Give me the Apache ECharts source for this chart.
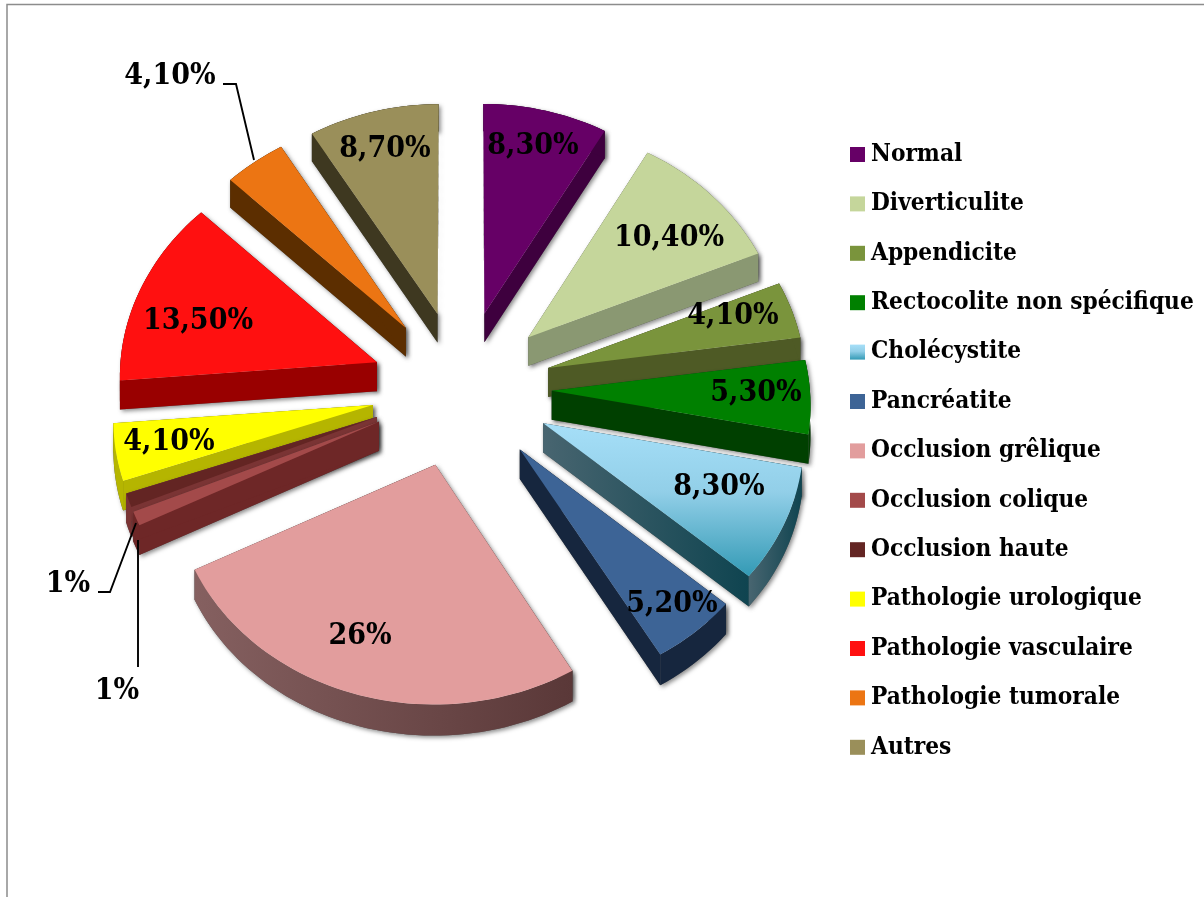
<!DOCTYPE html>
<html>
<head>
<meta charset="utf-8">
<title>Pie</title>
<style>
  html, body { margin: 0; padding: 0; background: #fff; }
  #chart { width: 1204px; height: 897px; }
</style>
<script src="https://cdn.jsdelivr.net/npm/echarts@6/dist/echarts.min.js"></script>
</head>
<body>
<div id="chart"></div>
<script>
var categories = ['Normal', 'Diverticulite', 'Appendicite', 'Rectocolite non spécifique', 'Cholécystite', 'Pancréatite',
  'Occlusion grêlique', 'Occlusion colique', 'Occlusion haute', 'Pathologie urologique', 'Pathologie vasculaire',
  'Pathologie tumorale', 'Autres'];
var values = [8.3, 10.4, 4.1, 5.3, 8.3, 5.2, 26, 1, 1, 4.1, 13.5, 4.1, 8.7];
var labels = ['8,30%', '10,40%', '4,10%', '5,30%', '8,30%', '5,20%', '26%', '1%', '1%', '4,10%', '13,50%', '4,10%', '8,70%'];

var topColors = ['#660066', '#c5d69b', '#7a943c', '#008000',
  { type: 'linear', x: 0, y: 0, x2: 0, y2: 1, colorStops: [{ offset: 0, color: '#a6dff8' }, { offset: 0.45, color: '#92cfe8' }, { offset: 1, color: '#339ab5' }] },
  '#3d6496', '#e29d9d', '#a34a4a', '#632523', '#ffff00', '#ff1010', '#ec7513', '#9a8f5a'];
var wallColors = ['#3e003e', '#8a9872', '#4e5a25', '#004000',
  { type: 'linear', x: 0, y: 0, x2: 1, y2: 0, colorStops: [{ offset: 0, color: '#486570' }, { offset: 1, color: '#0f4450' }] },
  '#16263e',
  { type: 'linear', x: 0, y: 0, x2: 1, y2: 0, colorStops: [{ offset: 0, color: '#856060' }, { offset: 1, color: '#5a3838' }] },
  '#6e2727', '#7a3434', '#b5b500', '#990000', '#5c2e00', '#3e3820'];

// label anchors, pixels
var labelAt = [[533, 146], [669, 238], [733, 316], [756, 393], [719, 487], [672, 604], [360, 636],
  [117, 691], [68, 584], [169, 442], [198, 321], [170, 76], [385, 149]];
var leaders = [
  [[223, 84], [236, 84], [254, 160]],
  [[98, 592], [110, 592], [136, 523]],
  [[138, 667], [138, 540]]
];

var cx = 461.5, cy = 388.5, rx = 258, ry = 224, explode = 0.35, perspX = 0.05, perspY = 0.04, depth = 29;
var fontName = '"DejaVu Serif Condensed", "DejaVu Serif", serif';
var total = values.reduce(function (a, b) { return a + b; }, 0);

function project(u, v) {
  var s = 1 / (1 - perspX * v);
  return [cx + rx * u * s, cy + ry * v / (1 - perspY * v), s];
}

function sliceShape(index) {
  var before = 0;
  for (var i = 0; i < index; i++) before += values[i];
  var a0 = before / total * Math.PI * 2;
  var a1 = (before + values[index]) / total * Math.PI * 2;
  var m = (a0 + a1) / 2;
  var ox = explode * Math.sin(m), oy = -explode * Math.cos(m);
  var tip = project(ox, oy);
  var rim = [];
  var steps = Math.max(2, Math.ceil((a1 - a0) / 0.03));
  for (var k = 0; k <= steps; k++) {
    var a = a0 + (a1 - a0) * k / steps;
    rim.push(project(ox + Math.sin(a), oy - Math.cos(a)));
  }
  return { tip: tip, rim: rim };
}

function drop(p) { return [p[0], p[1] + depth * p[2]]; }
function flat(p) { return [p[0], p[1]]; }

function renderSlice(index) {
  return function () {
    var sh = sliceShape(index);
    var rim = sh.rim, tip = sh.tip;
    var first = rim[0], last = rim[rim.length - 1];
    var faces = [
      [flat(tip), flat(first), drop(first), drop(tip)],
      [flat(tip), flat(last), drop(last), drop(tip)],
      rim.map(flat).concat(rim.slice().reverse().map(drop))
    ];
    var children = [];
    // shadows first, then the clean walls over them
    faces.forEach(function (pts) {
      children.push({ type: 'polygon', shape: { points: pts },
        style: { fill: '#555', shadowColor: 'rgba(0,0,0,0.45)', shadowBlur: 4, shadowOffsetX: 2, shadowOffsetY: 2 } });
    });
    faces.forEach(function (pts) {
      children.push({ type: 'polygon', shape: { points: pts }, style: { fill: wallColors[index] } });
    });
    children.push({ type: 'polygon', shape: { points: [flat(tip)].concat(rim.map(flat)) }, style: { fill: topColors[index] } });
    return { type: 'group', children: children };
  };
}

function midCos(index) {
  var before = 0;
  for (var i = 0; i < index; i++) before += values[i];
  return Math.cos((before + values[index] / 2) / total * Math.PI * 2);
}

var series = categories.map(function (name, i) {
  return {
    name: name,
    type: 'custom',
    coordinateSystem: 'none',
    silent: true,
    z: 10 - midCos(i) * 5,
    itemStyle: { color: topColors[i] },
    renderItem: renderSlice(i),
    data: [values[i]]
  };
});

series.push({
  name: 'labels',
  type: 'custom',
  coordinateSystem: 'none',
  silent: true,
  z: 30,
  renderItem: function (params) {
    var i = params.dataIndex;
    return {
      type: 'text',
      style: {
        x: labelAt[i][0], y: labelAt[i][1], text: labels[i],
        font: 'bold 30px ' + fontName, fill: '#000', align: 'center', verticalAlign: 'middle'
      }
    };
  },
  data: labels
});

var chart = echarts.init(document.getElementById('chart'));
chart.setOption({
  animation: false,
  backgroundColor: '#fff',
  legend: {
    data: categories,
    orient: 'vertical',
    icon: 'rect',
    left: 845,
    top: 133,
    itemWidth: 15,
    itemHeight: 15,
    itemGap: 16.4,
    selectedMode: false,
    textStyle: { fontFamily: fontName, fontWeight: 'bold', fontSize: 24.2, color: '#000', lineHeight: 29, padding: [4, 0, 0, 1] }
  },
  graphic: [
    { type: 'polyline', shape: { points: [[7, 897], [7, 4.5], [1204, 4.5]] }, style: { stroke: '#8c8c8c', lineWidth: 1.5, fill: 'none' } }
  ].concat(leaders.map(function (pts) {
    return { type: 'polyline', z: 40, shape: { points: pts }, style: { stroke: '#000', lineWidth: 1.9, fill: 'none' } };
  })),
  series: series
});
</script>
</body>
</html>
